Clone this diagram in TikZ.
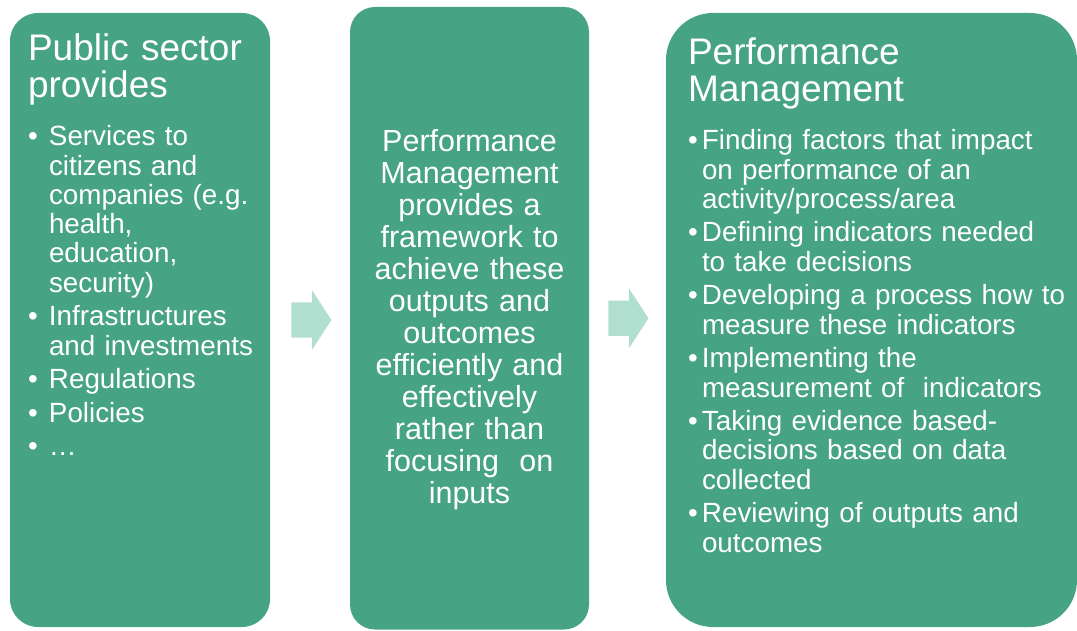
\documentclass[tikz,border=0pt]{standalone}
\usepackage{fontspec}
\setmainfont{Liberation Sans}
\usetikzlibrary{positioning, shapes.arrows}
\definecolor{pmgreen}{HTML}{46A383}
\definecolor{pmlight}{HTML}{B0DFCF}
% one bullet point with hanging indent
\newcommand{\pmitem}[2]{\noindent\hangindent=#1\hangafter=1\makebox[#1][l]{\textbullet}#2\par\vspace{4.3pt}}

\begin{document}
\begin{tikzpicture}[x=1pt, y=1pt,
      panel/.style={fill=pmgreen, inner sep=0pt},
      fwd/.style={single arrow, fill=pmlight, inner xsep=0pt, inner ysep=17.5pt,
                  minimum height=40pt, single arrow head extend=12pt,
                  single arrow tip angle=114},
      head/.style={anchor=base west, inner sep=0pt, text=white, text width=#1,
                   align=left, font=\fontsize{37}{37}\selectfont},
      bullets/.style={anchor=base west, inner sep=0pt, text=white, text width=#1,
                      align=left, font=\fontsize{27.8}{29.3}\selectfont}]
    \useasboundingbox (0,0) rectangle (1077,630);
    % the three panels
    \node[panel, minimum width=260pt, minimum height=614pt, rounded corners=28pt] (pub) at (140,310) {};
    \node[panel, minimum width=239pt, minimum height=622.5pt, rounded corners=25pt] (ctr) at (469.5,311.75) {};
    \node[panel, minimum width=411pt, minimum height=614pt, rounded corners=47pt] (pm) at (871.5,310) {};
    % block arrows in between
    \node[fwd, right=21pt of pub] (toctr) {};
    \node[fwd, right=19pt of ctr] (topm) {};
    % left panel
    \node[head=235pt] (pubhead) at ([shift={(18,-48)}]pub.north west) {Public sector\\provides};
    \node[bullets=240pt] (publist) at ([shift={(18,-133)}]pub.north west) {%
      \pmitem{21pt}{Services to\newline citizens and\newline companies (e.g.\newline health,\newline education,\newline security)}
      \pmitem{21pt}{Infrastructures\newline and investments}
      \pmitem{21pt}{Regulations}
      \pmitem{21pt}{Policies}
      \pmitem{21pt}{…}};
    % middle panel
    \node[anchor=base, inner sep=0pt, text=white, text width=235pt, align=center,
          font=\fontsize{30.5}{32}\selectfont] (ctrtext) at ([yshift=-145]ctr.north)
      {Performance\\Management\\provides a\\framework to\\achieve these\\outputs and\\outcomes\\efficiently and\\effectively\\rather than\\focusing\ \ on\\inputs};
    % right panel
    \node[head=380pt] (pmhead) at ([shift={(22,-52)}]pm.north west) {Performance\\Management};
    \node[bullets=385pt] (pmlist) at ([shift={(22,-137)}]pm.north west) {%
      \pmitem{14pt}{Finding factors that impact\newline on performance of an\newline activity/process/area}
      \pmitem{14pt}{Defining indicators needed\newline to take decisions}
      \pmitem{14pt}{Developing a process how to\newline measure these indicators}
      \pmitem{14pt}{Implementing the\newline measurement of\ \ indicators}
      \pmitem{14pt}{Taking evidence based-\newline decisions based on data\newline collected}
      \pmitem{14pt}{Reviewing of outputs and\newline outcomes}};
  \end{tikzpicture}
\end{document}
